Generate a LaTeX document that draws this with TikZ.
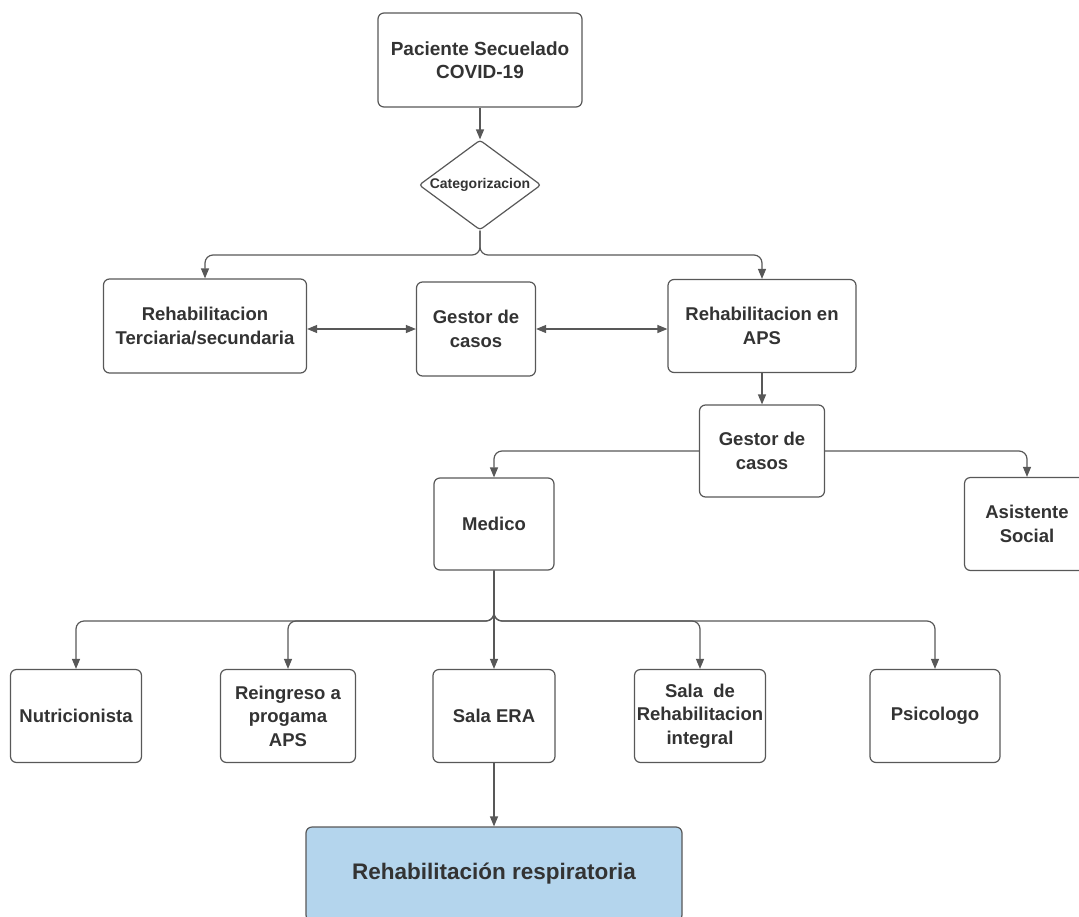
\documentclass[tikz,border=0pt]{standalone}
\usepackage{fontspec}
\setmainfont{Liberation Sans}
\usepackage{tikz}
\usetikzlibrary{arrows.meta,positioning,shapes.geometric}
\definecolor{lineg}{RGB}{88,88,88}
\definecolor{txtg}{RGB}{51,51,51}
\definecolor{respblue}{RGB}{180,213,237}
\tikzset{
  box/.style={draw=lineg, line width=1.2pt, rounded corners=6pt, fill=white, text=txtg, inner sep=2pt,
    font=\bfseries\fontsize{18.5}{23.5}\selectfont, align=center},
  catbox/.style={diamond, draw=lineg, line width=1.2pt, rounded corners=3pt, fill=white, text=txtg, inner sep=0pt,
    aspect=1.36, minimum width=122pt, minimum height=90pt, font=\bfseries\fontsize{14}{16}\selectfont},
  respbox/.style={box, fill=respblue, font=\bfseries\fontsize{22.5}{26}\selectfont},
  arr/.style={-{Triangle[length=10pt,width=8pt]}, lineg, line width=1.2pt, rounded corners=8pt},
  arrb/.style={{Triangle[length=10pt,width=8pt]}-{Triangle[length=10pt,width=8pt]}, lineg, line width=1.2pt},
}
\begin{document}
\begin{tikzpicture}[x=1pt, y=-1pt]
  \useasboundingbox (0,0) rectangle (1079,916);
  % arriba
  \node[box, minimum width=204pt, minimum height=94pt, font=\bfseries\fontsize{19}{22.5}\selectfont] (pac) at (480,60) {Paciente Secuelado\\COVID-19};
  \node[catbox] (cat) at (480,185) {Categorizacion};
  \coordinate (j1) at (480,255);
  % segundo nivel
  \node[box, minimum width=203pt, minimum height=94pt] (terc) at (205,326) {Rehabilitacion\\Terciaria/secundaria};
  \node[box, minimum width=119pt, minimum height=94pt] (g1) at (476,329) {Gestor de\\casos};
  \node[box, minimum width=188pt, minimum height=93pt] (aps) at (762,326) {Rehabilitacion en\\APS};
  \node[box, minimum width=125pt, minimum height=92pt] (g2) at (762,451) {Gestor de\\casos};
  \node[box, minimum width=120pt, minimum height=92pt] (med) at (494,524) {Medico};
  \node[box, minimum width=125pt, minimum height=93pt] (asis) at (1027,524) {Asistente\\Social};
  \coordinate (j2) at (494,621);
  % fila de abajo
  \node[box, minimum width=131pt, minimum height=93pt] (nut) at (76,716) {Nutricionista};
  \node[box, minimum width=135pt, minimum height=93pt] (rein) at (288,716) {Reingreso a\\progama\\APS};
  \node[box, minimum width=122pt, minimum height=93pt] (era) at (494,716) {Sala ERA};
  \node[box, minimum width=131pt, minimum height=93pt] (sri) at (700,716) {Sala\ \ de\\Rehabilitacion\\integral};
  \node[box, minimum width=130pt, minimum height=93pt] (psi) at (935,716) {Psicologo};
  \node[respbox, minimum width=376pt, minimum height=94pt] (resp) at (494,874) {Rehabilitación respiratoria};
  % conectores
  \draw[arr] (pac) -- (cat);
  \draw[arr] (cat.south) -- (j1) -| (terc.north);
  \draw[arr] (cat.south) -- (j1) -| (aps.north);
  \draw[arrb] (g1.west -| terc.east) -- (g1.west);
  \draw[arrb] (g1.east) -- (g1.east -| aps.west);
  \draw[arr] (aps) -- (g2);
  \draw[arr] (g2.west) -| (med.north);
  \draw[arr] (g2.east) -| (asis.north);
  \draw[arr] (med.south) -- (j2) -| (nut.north);
  \draw[arr] (med.south) -- (j2) -| (rein.north);
  \draw[arr] (med) -- (era);
  \draw[arr] (med.south) -- (j2) -| (sri.north);
  \draw[arr] (med.south) -- (j2) -| (psi.north);
  \draw[arr] (era) -- (resp);
\end{tikzpicture}
\end{document}
